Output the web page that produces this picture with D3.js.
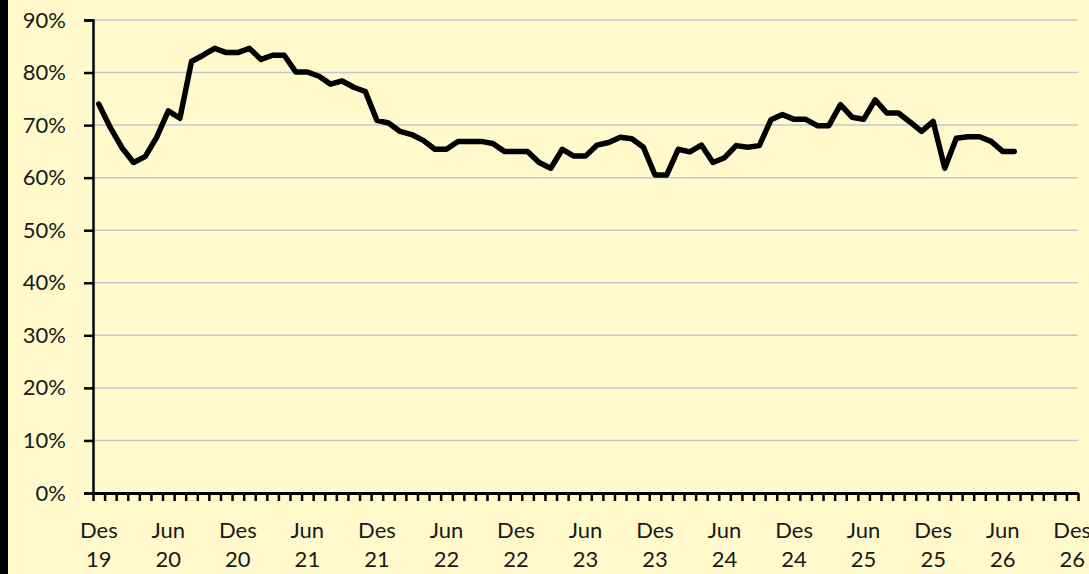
<!DOCTYPE html>
<meta charset="utf-8">
<style>
body { margin: 0; background: #fff9cc; }
svg { display: block; }
.axis text { font: 22px Lato, "Open Sans", sans-serif; fill: #1a1a1a; }
</style>
<svg width="1089" height="574"></svg>
<script src="https://cdn.jsdelivr.net/npm/d3@7"></script>
<script>

// month names (Indonesian), axis runs Des 19 .. Des 26
var monthNames = ["Jan", "Feb", "Mar", "Apr", "Mei", "Jun", "Jul", "Agu", "Sep", "Okt", "Nov", "Des"];
var startYear = 2019, startMonth = 11, nMonths = 85;

var yTicks = [0, 0.1, 0.2, 0.3, 0.4, 0.5, 0.6, 0.7, 0.8, 0.9];

// monthly share (Des 19 .. Jul 26)
var values = [
  0.740, 0.695, 0.657, 0.629, 0.640, 0.677, 0.727, 0.713, 0.821, 0.833,
  0.846, 0.838, 0.838, 0.846, 0.825, 0.833, 0.833, 0.801, 0.801, 0.793,
  0.778, 0.784, 0.772, 0.764, 0.709, 0.704, 0.688, 0.682, 0.671, 0.654,
  0.654, 0.669, 0.669, 0.669, 0.665, 0.650, 0.650, 0.650, 0.629, 0.618,
  0.654, 0.641, 0.641, 0.662, 0.667, 0.677, 0.674, 0.658, 0.605, 0.605,
  0.654, 0.649, 0.662, 0.629, 0.638, 0.661, 0.658, 0.661, 0.710, 0.720,
  0.711, 0.711, 0.699, 0.699, 0.739, 0.715, 0.711, 0.748, 0.723, 0.723,
  0.706, 0.688, 0.707, 0.618, 0.675, 0.678, 0.678, 0.669, 0.650, 0.650
];

var categories = [];
for (var i = 0; i < nMonths; i++) {
    var m = (startMonth + i) % 12;
    var yr = startYear + Math.floor((startMonth + i) / 12);
    categories.push(monthNames[m] + " " + String(yr).slice(2));
}

var svg = d3.select("svg");

var plotLeft = 93, plotRight = 1078, plotTop = 20, plotBottom = 493;

// dark strip on the left edge
svg.append("rect")
    .attr("x", 0).attr("y", 0)
    .attr("width", 8).attr("height", 574)
    .attr("fill", "#000");

var x = d3.scaleBand()
    .domain(categories)
    .range([plotLeft, plotRight])
    .padding(0);

var xEdge = d3.scaleLinear()
    .domain([0, nMonths])
    .range([plotLeft, plotRight]);

var y = d3.scaleLinear()
    .domain([0, 0.9])
    .range([plotBottom, plotTop]);

// gridlines
svg.append("g")
    .selectAll("line")
    .data(yTicks.slice(1))
    .enter().append("line")
    .attr("x1", plotLeft).attr("x2", plotRight)
    .attr("y1", function(d) { return y(d); })
    .attr("y2", function(d) { return y(d); })
    .attr("stroke", "#c2c5d3")
    .attr("stroke-width", 1.5);

// y axis
var yAxis = svg.append("g")
    .attr("class", "axis")
    .attr("transform", "translate(" + plotLeft + ",0)")
    .call(d3.axisLeft(y)
        .tickValues(yTicks)
        .tickSize(9)
        .tickPadding(18)
        .tickFormat(d3.format(".0%")));
yAxis.select(".domain").attr("stroke", "#000").attr("stroke-width", 2.5);
yAxis.selectAll(".tick line").attr("stroke", "#000").attr("stroke-width", 2.5);

// x axis: minor ticks at every month boundary
var xTicks = svg.append("g")
    .attr("class", "axis")
    .attr("transform", "translate(0," + plotBottom + ")")
    .call(d3.axisBottom(xEdge)
        .tickValues(d3.range(nMonths + 1))
        .tickSize(8)
        .tickSizeOuter(0)
        .tickFormat(""));
xTicks.select(".domain").attr("stroke", "#000").attr("stroke-width", 3);
xTicks.selectAll(".tick line").attr("stroke", "#000").attr("stroke-width", 2.5);

// x labels every six months, two lines
var labelCats = categories.filter(function(d, i) { return i % 6 === 0; });
var xLabels = svg.append("g")
    .attr("class", "axis")
    .attr("transform", "translate(0," + plotBottom + ")")
    .call(d3.axisBottom(x)
        .tickValues(labelCats)
        .tickSize(0)
        .tickFormat(""));
xLabels.select(".domain").remove();
xLabels.selectAll(".tick").each(function(d) {
    var parts = d.split(" ");
    var t = d3.select(this).append("text")
        .attr("text-anchor", "middle")
        .attr("y", 45);
    t.append("tspan").attr("x", 0).text(parts[0]);
    t.append("tspan").attr("x", 0).attr("dy", 29).text(parts[1]);
});

// line
var line = d3.line()
    .x(function(d, i) { return x(categories[i]) + x.bandwidth() / 2; })
    .y(function(d) { return y(d); });

svg.append("path")
    .datum(values)
    .attr("d", line)
    .attr("fill", "none")
    .attr("stroke", "#000")
    .attr("stroke-width", 5.5)
    .attr("stroke-linejoin", "round")
    .attr("stroke-linecap", "round");

</script>
